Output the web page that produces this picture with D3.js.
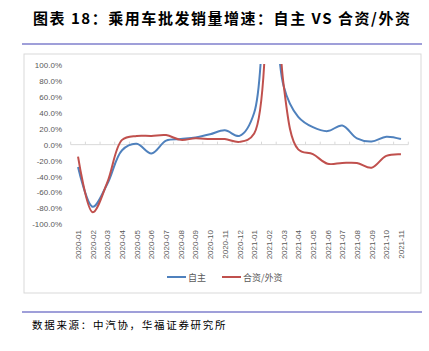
<!DOCTYPE html>
<html lang="zh">
<head>
<meta charset="UTF-8">
<title>乘用车批发销量增速</title>
<script src="https://d3js.org/d3.v7.min.js"></script>
<style>
    body { margin: 0; background: #fff; }
    svg { display: block; }
    .ylab, .xlab { font-family: "Liberation Sans", Arial, sans-serif; font-size: 8px; fill: #595959; }
</style>
</head>
<body>
<svg id="chart" width="429" height="351"></svg>
<script>
const months = ["2020-01","2020-02","2020-03","2020-04","2020-05","2020-06","2020-07","2020-08","2020-09","2020-10","2020-11","2020-12",
                "2021-01","2021-02","2021-03","2021-04","2021-05","2021-06","2021-07","2021-08","2021-09","2021-10","2021-11"];
// 自主 (%), 2021-02 goes far off the top of the axis
const domestic = [-28, -78, -49, -7, 1, -11, 5, 7, 9, 13, 18, 11, 40, 340, 74, 35, 22, 17, 24, 8, 4, 10, 7];
// 合资/外资 (%)
const jointVenture = [-15, -85, -47, 6, 11, 11, 12, 6, 8, 7, 7, 3.5, 14, 600, 76, -6, -12, -24, -23, -23, -29, -14, -12];
const yTicks = [-100, -80, -60, -40, -20, 0, 20, 40, 60, 80, 100];
const seriesNames = ["自主", "合资/外资"];
const seriesColors = ["#4F81BD", "#C0504D"];

const svg = d3.select("#chart");

// title + rules
svg.append("text")
    .attr("x", 33).attr("y", 24)
    .attr("textLength", 377).attr("lengthAdjust", "spacing")
    .style("font-family", "'Noto Sans CJK SC', sans-serif")
    .style("font-size", "15px").style("font-weight", "bold").style("fill", "#000")
    .text("图表 18：乘用车批发销量增速：自主 VS 合资/外资");
svg.append("line").attr("x1", 22).attr("x2", 422).attr("y1", 44).attr("y2", 44)
    .attr("stroke", "#7f7fcc").attr("stroke-width", 1.3);
svg.append("line").attr("x1", 22).attr("x2", 422).attr("y1", 312).attr("y2", 312)
    .attr("stroke", "#7f7fcc").attr("stroke-width", 1.3);
svg.append("text")
    .attr("x", 32).attr("y", 329)
    .style("font-family", "'Noto Sans CJK SC', sans-serif")
    .style("font-size", "10.5px").style("letter-spacing", "1.7px").style("fill", "#000")
    .text("数据来源：中汽协，华福证券研究所");

// chart area border
svg.append("rect").attr("x", 24).attr("y", 54).attr("width", 397).attr("height", 239)
    .attr("fill", "none").attr("stroke", "#d9d9d9").attr("stroke-width", 1);

const x = d3.scaleBand().domain(months).range([70.7, 408.3]);
const y = d3.scaleLinear().domain([-100, 100]).range([224.3, 65]);

// y labels
svg.append("g").selectAll("text").data(yTicks).enter().append("text")
    .attr("class", "ylab")
    .attr("x", 62).attr("y", d => y(d) + 3)
    .attr("text-anchor", "end")
    .text(d => d.toFixed(1) + "%");

// category axis at 0 with ticks between categories
const axis = svg.append("g").attr("transform", `translate(0,${y(0)})`);
axis.append("line").attr("x1", 70.7).attr("x2", 408.3).attr("y1", 0).attr("y2", 0)
    .attr("stroke", "#d9d9d9");
axis.selectAll(".tk").data(months.concat(["end"])).enter().append("line")
    .attr("x1", (d, i) => i < months.length ? x(d) : x.range()[1])
    .attr("x2", (d, i) => i < months.length ? x(d) : x.range()[1])
    .attr("y1", -3).attr("y2", 0)
    .attr("stroke", "#d9d9d9");

// x labels, rotated
svg.append("g").selectAll("text").data(months).enter().append("text")
    .attr("class", "xlab")
    .attr("transform", d => `translate(${x(d) + x.bandwidth() / 2 + 3},230) rotate(-90)`)
    .attr("text-anchor", "end")
    .text(d => d);

// lines, clipped to the plot area
svg.append("clipPath").attr("id", "clip")
    .append("rect").attr("x", 60).attr("y", 64).attr("width", 360).attr("height", 170);

const line = d3.line()
    .x((d, i) => x(months[i]) + x.bandwidth() / 2)
    .y(d => y(d))
    .curve(d3.curveCatmullRom.alpha(0.5));

const plot = svg.append("g").attr("clip-path", "url(#clip)");
[domestic, jointVenture].forEach((vals, k) => {
    plot.append("path").datum(vals)
        .attr("d", line)
        .attr("fill", "none")
        .attr("stroke", seriesColors[k])
        .attr("stroke-width", 2);
});

// legend
const legX = [167, 222];
const leg = svg.append("g");
seriesNames.forEach((name, k) => {
    leg.append("line").attr("x1", legX[k]).attr("x2", legX[k] + 19).attr("y1", 277).attr("y2", 277)
        .attr("stroke", seriesColors[k]).attr("stroke-width", 2);
    leg.append("text").attr("x", legX[k] + 21).attr("y", 280.5)
        .style("font-family", "'Noto Sans CJK SC', sans-serif")
        .style("font-size", "9px").style("fill", "#595959")
        .text(name);
});
</script>
</body>
</html>
